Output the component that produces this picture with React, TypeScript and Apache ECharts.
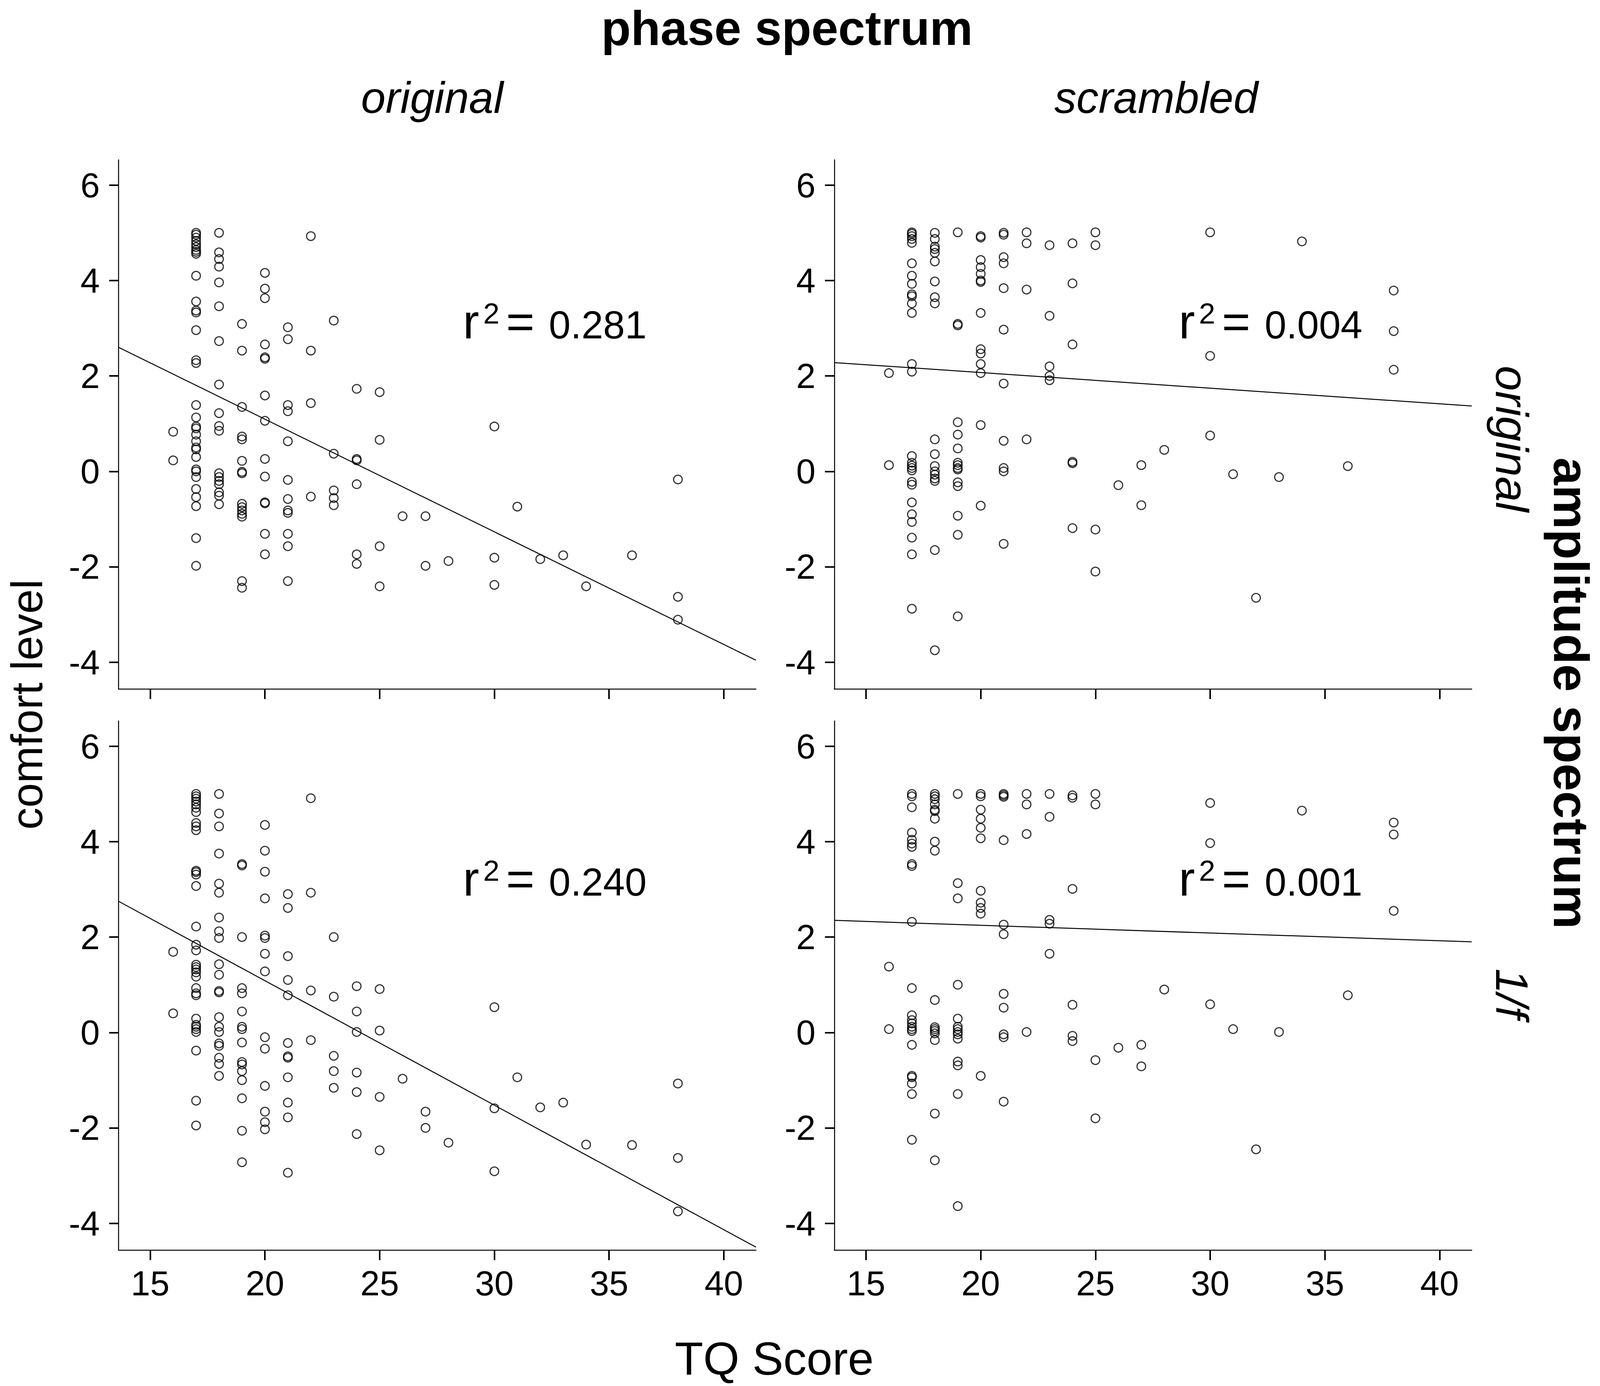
import React, { useEffect, useRef } from "react";
import * as echarts from "echarts";

// ---------- DATA ----------
// TQ score columns: [TQ score, comfort levels at that score]
const origOrigCols: [number, number[]][] = [
  [16, [0.83, 0.23]],
  [17, [5.0, 4.96, 4.9, 4.83, 4.76, 4.7, 4.64, 4.6, 4.56, 4.1, 3.56, 3.37, 3.33, 2.96, 2.33, 2.27, 1.39, 1.13, 0.94, 0.9, 0.77, 0.63, 0.5, 0.46, 0.3, 0.04, 0.0, -0.12, -0.37, -0.54, -0.73, -1.4, -1.98]],
  [18, [5.0, 4.59, 4.45, 4.29, 3.96, 3.46, 2.73, 1.82, 1.22, 0.95, 0.85, -0.04, -0.12, -0.2, -0.27, -0.44, -0.51, -0.69]],
  [19, [3.09, 2.53, 1.35, 0.73, 0.67, 0.22, -0.01, -0.04, -0.68, -0.75, -0.82, -0.89, -0.95, -2.3, -2.44]],
  [20, [4.16, 3.83, 3.63, 2.66, 2.39, 2.36, 1.59, 1.06, 0.26, -0.11, -0.65, -0.67, -1.31, -1.74]],
  [21, [3.02, 2.77, 1.39, 1.26, 0.63, -0.18, -0.58, -0.82, -0.87, -1.31, -1.57, -2.3]],
  [22, [4.93, 2.53, 1.43, -0.53]],
  [23, [3.16, 0.37, -0.4, -0.56, -0.71]],
  [24, [1.73, 0.26, 0.23, -0.27, -1.74, -1.94]],
  [25, [1.66, 0.66, -1.57, -2.41]],
  [26, [-0.94]],
  [27, [-0.94, -1.98]],
  [28, [-1.88]],
  [30, [0.94, -1.81, -2.38]],
  [31, [-0.74]],
  [32, [-1.84]],
  [33, [-1.76]],
  [34, [-2.41]],
  [36, [-1.76]],
  [38, [-0.17, -2.63, -3.11]],
];

const scrOrigCols: [number, number[]][] = [
  [16, [2.06, 0.13]],
  [17, [5.01, 4.98, 4.93, 4.87, 4.79, 4.36, 4.1, 3.93, 3.71, 3.67, 3.52, 3.32, 2.25, 2.09, 0.32, 0.18, 0.12, 0.07, 0.02, -0.22, -0.28, -0.65, -0.9, -1.06, -1.39, -1.74, -2.88]],
  [18, [5.0, 4.87, 4.71, 4.66, 4.58, 4.4, 3.98, 3.65, 3.52, 0.67, 0.36, 0.11, 0.0, -0.07, -0.15, -0.2, -1.65, -3.75]],
  [19, [5.01, 3.09, 3.06, 1.03, 0.77, 0.48, 0.18, 0.13, 0.07, 0.04, -0.23, -0.31, -0.93, -1.33, -3.04]],
  [20, [4.93, 4.9, 4.43, 4.28, 4.14, 4.0, 3.97, 3.32, 2.56, 2.47, 2.25, 2.06, 0.97, -0.72]],
  [21, [5.0, 4.96, 4.49, 4.36, 3.84, 2.97, 1.84, 0.64, 0.07, 0.0, -1.52]],
  [22, [5.01, 4.78, 3.81, 0.67]],
  [23, [4.74, 3.26, 2.2, 2.0, 1.91]],
  [24, [4.78, 3.94, 2.66, 0.2, 0.17, -1.19]],
  [25, [5.01, 4.74, -1.22, -2.1]],
  [26, [-0.29]],
  [27, [0.13, -0.71]],
  [28, [0.45]],
  [30, [5.01, 2.42, 0.75]],
  [31, [-0.06]],
  [32, [-2.65]],
  [33, [-0.12]],
  [34, [4.82]],
  [36, [0.11]],
  [38, [3.79, 2.94, 2.13]],
];

const origOneFCols: [number, number[]][] = [
  [16, [1.69, 0.4]],
  [17, [5.0, 4.95, 4.9, 4.84, 4.78, 4.71, 4.62, 4.39, 4.32, 4.24, 3.39, 3.36, 3.31, 3.07, 2.22, 1.84, 1.72, 1.42, 1.37, 1.32, 1.26, 1.17, 0.93, 0.82, 0.78, 0.29, 0.16, 0.12, 0.07, 0.01, -0.38, -1.43, -1.95]],
  [18, [5.0, 4.59, 4.32, 3.75, 3.12, 2.93, 2.41, 2.12, 1.98, 1.43, 1.21, 0.87, 0.84, 0.32, 0.12, 0.01, -0.23, -0.28, -0.53, -0.66, -0.91]],
  [19, [3.53, 3.5, 2.0, 0.93, 0.82, 0.44, 0.12, 0.07, -0.21, -0.62, -0.67, -0.81, -1.0, -1.38, -2.06, -2.72]],
  [20, [4.35, 3.81, 3.37, 2.81, 2.03, 1.98, 1.65, 1.28, -0.1, -0.34, -1.12, -1.66, -1.88, -2.03]],
  [21, [2.9, 2.61, 1.6, 1.1, 0.78, -0.22, -0.5, -0.53, -0.94, -1.47, -1.78, -2.94]],
  [22, [4.91, 2.93, 0.88, -0.16]],
  [23, [2.0, 0.75, -0.49, -0.81, -1.16]],
  [24, [0.97, 0.44, 0.01, -0.84, -1.25, -2.13]],
  [25, [0.91, 0.04, -1.35, -2.47]],
  [26, [-0.97]],
  [27, [-1.66, -2.0]],
  [28, [-2.31]],
  [30, [0.53, -1.59, -2.91]],
  [31, [-0.94]],
  [32, [-1.57]],
  [33, [-1.47]],
  [34, [-2.35]],
  [36, [-2.36]],
  [38, [-1.07, -2.63, -3.75]],
];

const scrOneFCols: [number, number[]][] = [
  [16, [1.38, 0.07]],
  [17, [5.0, 4.95, 4.72, 4.19, 4.04, 3.96, 3.89, 3.53, 3.49, 2.32, 0.93, 0.36, 0.26, 0.19, 0.12, 0.07, 0.03, -0.26, -0.91, -0.94, -1.07, -1.29, -2.25]],
  [18, [5.0, 4.95, 4.89, 4.78, 4.67, 4.64, 4.48, 4.0, 3.81, 0.68, 0.11, 0.07, 0.03, -0.02, -0.16, -1.7, -2.68]],
  [19, [5.0, 3.13, 2.81, 1.0, 0.29, 0.12, 0.07, 0.01, -0.04, -0.13, -0.61, -0.69, -1.29, -3.64]],
  [20, [5.0, 4.95, 4.67, 4.48, 4.29, 4.07, 2.97, 2.72, 2.61, 2.49, -0.91]],
  [21, [5.0, 4.97, 4.94, 4.03, 2.26, 2.06, 0.81, 0.52, -0.04, -0.1, -1.45]],
  [22, [5.0, 4.78, 4.16, 0.01]],
  [23, [5.0, 4.52, 2.36, 2.28, 1.65]],
  [24, [4.97, 4.92, 3.01, 0.58, -0.07, -0.18]],
  [25, [5.0, 4.78, -0.58, -1.8]],
  [26, [-0.32]],
  [27, [-0.26, -0.71]],
  [28, [0.9]],
  [30, [4.81, 3.97, 0.59]],
  [31, [0.07]],
  [32, [-2.45]],
  [33, [0.01]],
  [34, [4.65]],
  [36, [0.78]],
  [38, [4.4, 4.15, 2.55]],
];

// regression line end points [TQ, comfort]
const origOrigFit: [number, number][] = [[13.62, 2.6], [41.4, -3.96]];
const scrOrigFit: [number, number][] = [[13.62, 2.28], [41.4, 1.37]];
const origOneFFit: [number, number][] = [[13.62, 2.75], [41.4, -4.5]];
const scrOneFFit: [number, number][] = [[13.62, 2.35], [41.4, 1.9]];

const r2Values = ["0.281", "0.004", "0.240", "0.001"];

const xTicks = [15, 20, 25, 30, 35, 40];
const yTicks = [-4, -2, 0, 2, 4, 6];
const X_MIN = 13.62;
const X_MAX = 41.4;
const Y_MIN = -4.56;
const Y_MAX = 6.53;

const titleText = "phase spectrum";
const colTitles = ["original", "scrambled"];
const rowGroupTitle = "amplitude spectrum";
const rowTitles = ["original", "1/f"];
const yTitle = "comfort level";
const xTitle = "TQ Score";

// ---------- LAYOUT (designed on a 4265 x 3547 canvas) ----------
const REF_W = 4265;
const H = 3547;
const FONT = "'Liberation Sans', Arial, Helvetica, sans-serif";
const panelBoxes = [
  { left: 316, top: 409 },
  { left: 2224, top: 409 },
  { left: 316, top: 1845 },
  { left: 2224, top: 1845 },
];
const PW = 1699;
const PH = 1354;
const r2Baselines = [867, 867, 2293, 2293];

const toPoints = (cols: [number, number[]][]) =>
  cols.flatMap(([x, ys]) => ys.map((y) => [x, y]));

const panelData = [origOrigCols, scrOrigCols, origOneFCols, scrOneFCols];
const panelFits = [origOrigFit, scrOrigFit, origOneFFit, scrOneFFit];

function txt(
  text: string,
  x: number,
  y: number,
  size: number,
  extra: any = {},
  rotation = 0,
  align = "left"
) {
  return {
    type: "text",
    x,
    y,
    rotation,
    silent: true,
    style: {
      text,
      fill: "#000",
      fontSize: size,
      fontFamily: FONT,
      fontWeight: extra.fontWeight || "normal",
      fontStyle: extra.fontStyle || "normal",
      lineHeight: size,
      align,
      textAlign: align,
      verticalAlign: "middle",
      textVerticalAlign: "middle",
    },
  };
}

const mid = (baseline: number, size: number) => baseline - 0.35 * size;

function getWidth() {
  const w = typeof window !== "undefined" ? window.innerWidth : REF_W;
  return Math.min(w || REF_W, REF_W);
}

export default function App() {
  const ref = useRef<HTMLDivElement>(null);
  const W = getWidth();

  useEffect(() => {
    document.body.style.margin = "0";
    if (!ref.current) return;
    const chart = echarts.init(ref.current, undefined, { renderer: "svg" });
    const sx = W / REF_W;
    const fs = (v: number) => Math.round(v * (0.5 + 0.5 * sx));

    const grids = panelBoxes.map((p) => ({
      left: p.left * sx,
      top: p.top,
      width: PW * sx,
      height: PH,
      containLabel: false,
      outerBoundsMode: "none",
    }));

    const axisLineStyle = { color: "#000", width: 2.5 };

    const xAxes = panelBoxes.map((_, i) => ({
      gridIndex: i,
      type: "value",
      min: X_MIN,
      max: X_MAX,
      position: "bottom",
      axisLine: { show: true, onZero: false, lineStyle: axisLineStyle },
      axisTick: {
        show: true,
        customValues: xTicks,
        length: 26,
        inside: false,
        lineStyle: { color: "#000", width: 4 },
      },
      axisLabel: {
        show: i >= 2,
        customValues: xTicks,
        fontSize: fs(91),
        color: "#000",
        fontFamily: FONT,
        margin: 40,
      },
      splitLine: { show: false },
    }));

    const yAxes = panelBoxes.map((_, i) => ({
      gridIndex: i,
      type: "value",
      min: Y_MIN,
      max: Y_MAX,
      position: "left",
      axisLine: { show: true, onZero: false, lineStyle: axisLineStyle },
      axisTick: {
        show: true,
        customValues: yTicks,
        length: 25 * sx,
        inside: false,
        lineStyle: { color: "#000", width: 4 },
      },
      axisLabel: {
        show: true,
        customValues: yTicks,
        fontSize: fs(91),
        color: "#000",
        fontFamily: FONT,
        margin: 50 * sx,
      },
      splitLine: { show: false },
    }));

    const series: any[] = [];
    panelData.forEach((cols, i) => {
      series.push({
        type: "line",
        xAxisIndex: i,
        yAxisIndex: i,
        data: panelFits[i],
        showSymbol: false,
        symbol: "none",
        lineStyle: { color: "#000", width: 2.5 },
        silent: true,
        z: 1,
      });
      series.push({
        type: "scatter",
        xAxisIndex: i,
        yAxisIndex: i,
        data: toPoints(cols),
        symbol: "circle",
        symbolSize: 22,
        itemStyle: {
          color: "rgba(0,0,0,0)",
          borderColor: "#000",
          borderWidth: 3,
        },
        silent: true,
        z: 2,
      });
    });

    const graphics: any[] = [];
    // main titles
    graphics.push(txt(titleText, 2098 * sx, mid(116, 127), fs(127), { fontWeight: "bold" }, 0, "center"));
    graphics.push(txt(colTitles[0], 1152 * sx, mid(290, 115), fs(115), { fontStyle: "italic" }, 0, "center"));
    graphics.push(txt(colTitles[1], 3082 * sx, mid(290, 115), fs(115), { fontStyle: "italic" }, 0, "center"));
    // right side (rotated, reading top to bottom)
    graphics.push(txt(rowGroupTitle, W - 74, 1774, 127, { fontWeight: "bold" }, -Math.PI / 2, "center"));
    graphics.push(txt(rowTitles[0], 4030 * sx, 1123, 116, { fontStyle: "italic" }, -Math.PI / 2, "center"));
    graphics.push(txt(rowTitles[1], 4030 * sx, 2543, 116, { fontStyle: "italic" }, -Math.PI / 2, "center"));
    // axis titles
    graphics.push(txt(yTitle, 72 * sx, 1803, 113, {}, Math.PI / 2, "center"));
    graphics.push(txt(xTitle, 2064 * sx, mid(3519, 121), fs(121), {}, 0, "center"));

    // r^2 annotations
    panelBoxes.forEach((p, i) => {
      const x0 = (p.left + 918) * sx;
      const b = r2Baselines[i];
      graphics.push(txt("r", x0, mid(b, 128), fs(128)));
      graphics.push(txt("2", x0 + 54 * sx, mid(b - 38, 77), fs(77)));
      graphics.push(txt("=", x0 + 115 * sx, mid(b, 128), fs(128)));
      graphics.push(txt(r2Values[i], x0 + 229 * sx, mid(b, 102), fs(102)));
    });

    chart.setOption({
      animation: false,
      backgroundColor: "#fff",
      grid: grids,
      xAxis: xAxes,
      yAxis: yAxes,
      series,
      graphic: { elements: graphics },
    });

    return () => chart.dispose();
  }, [W]);

  return (
    <div
      ref={ref}
      style={{ position: "absolute", left: 0, top: 0, width: W, height: H }}
    />
  );
}
